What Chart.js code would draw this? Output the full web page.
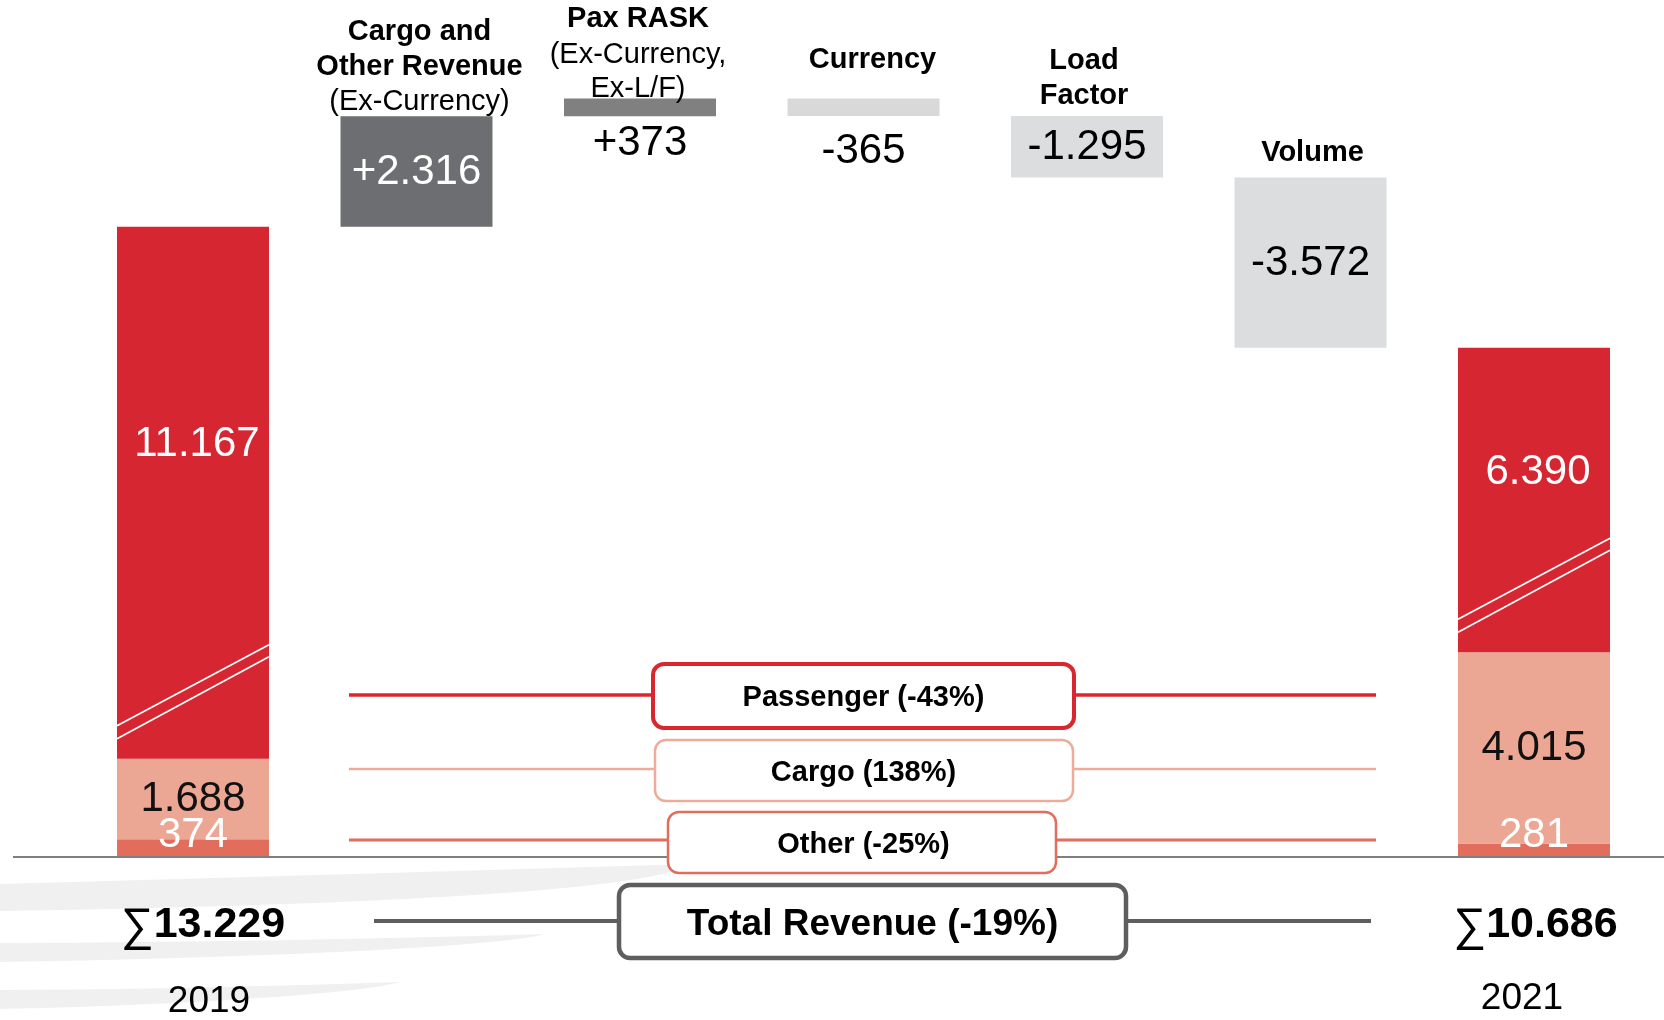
<!DOCTYPE html>
<html>
<head>
    <meta charset="utf-8" lang="en">
    <title>Revenue Bridge 2019 - 2021</title>
    <script src="https://cdn.jsdelivr.net/npm/chart.js@4.4.1/dist/chart.umd.min.js"></script>
    <style>
        html, body { margin: 0; padding: 0; background: #ffffff; }
        #bridgeChart { display: block; }
    </style>
</head>
<body>
    <canvas id="bridgeChart" width="1664" height="1020"></canvas>

    <script>
        // ---- data ----
        const categories = ['2019', 'Cargo and Other Revenue (Ex-Currency)', 'Pax RASK (Ex-Currency, Ex-L/F)',
                            'Currency', 'Load Factor', 'Volume', '2021'];
        const headerLines = [
            [],
            ['Cargo and', 'Other Revenue', '(Ex-Currency)'],
            ['Pax RASK', '(Ex-Currency,', 'Ex-L/F)'],
            ['Currency'],
            ['Load', 'Factor'],
            ['Volume'],
            []
        ];
        const segmentNames = ['Passenger', 'Cargo', 'Other'];
        const revenue2019 = [11167, 1688, 374];
        const revenue2021 = [6390, 4015, 281];
        const stepDeltas = [2316, 373, -365, -1295, -3572];
        const changeLabels = ['Passenger (-43%)', 'Cargo (138%)', 'Other (-25%)'];
        const totalLabel = 'Total Revenue (-19%)';
        const yearLabels = ['2019', '2021'];

        // ---- styles ----
        const FONT = '"Liberation Sans", Arial, sans-serif';
        const segmentColors = ['#D62631', '#EBA794', '#E26D5C'];
        const stepColors = ['#6D6E71', '#808080', '#D9D9D9', '#DCDDDF', '#DCDDDF'];
        const stepLabelColors = ['#ffffff', '#000000', '#000000', '#000000', '#000000'];
        const stepLabelGap = [0, 27, 36, 0, 0];       // 0 = inside the box, else px below it
        const headerBold = [0, 2, 1, 1, 2, 1, 0];      // how many leading lines are bold
        const headerY = [[], [32, 67, 102], [19, 55, 89], [60], [61, 96], [153], []];
        const headerDx = [0, 3, -2, 9, -3, 2, 0];
        const changeBoxes = [
            { y: 695, top: 664, bottom: 728, left: 653, right: 1074, color: '#D9262F', width: 4, line: 3.5 },
            { y: 769, top: 740, bottom: 801, left: 655, right: 1073, color: '#EFAB99', width: 2.5, line: 2.5 },
            { y: 840, top: 812, bottom: 873, left: 668, right: 1056, color: '#E26D5C', width: 2.5, line: 3 }
        ];

        function fmt(n) {
            return String(Math.abs(n)).replace(/\B(?=(\d{3})+(?!\d))/g, '.');
        }
        function sum(arr) { return arr.reduce((a, b) => a + b, 0); }

        const nCat = categories.length;

        // stacked composition bars, Other at the bottom, Passenger on top
        function segmentData(seg) {
            const arr = new Array(nCat).fill(null);
            [revenue2019, revenue2021].forEach((vals, k) => {
                let start = 0;
                for (let s = vals.length - 1; s > seg; s--) start += vals[s];
                arr[k === 0 ? 0 : nCat - 1] = [start, start + vals[seg]];
            });
            return arr;
        }

        // floating bridge steps
        const stepData = [null];
        let level = sum(revenue2019);
        stepDeltas.forEach(d => {
            stepData.push([level, level + d]);
            level += d;
        });
        stepData.push(null);

        const datasets = segmentNames.map((name, i) => ({
            label: name,
            data: segmentData(i),
            backgroundColor: segmentColors[i]
        }));
        datasets.push({
            label: 'Bridge',
            data: stepData,
            backgroundColor: [null].concat(stepColors, [null])
        });

        function barBox(chart, ds, idx) {
            const el = chart.getDatasetMeta(ds).data[idx];
            const p = el.getProps(['x', 'y', 'base', 'width'], true);
            return {
                x: p.x, left: p.x - p.width / 2, right: p.x + p.width / 2,
                top: Math.min(p.y, p.base), bottom: Math.max(p.y, p.base)
            };
        }

        function text(ctx, str, x, y, size, bold, color) {
            ctx.font = (bold ? 'bold ' : '') + size + 'px ' + FONT;
            ctx.fillStyle = color;
            ctx.textAlign = 'center';
            ctx.textBaseline = 'middle';
            ctx.fillText(str, x, y);
        }

        function roundBox(ctx, b) {
            ctx.beginPath();
            ctx.roundRect(b.left, b.top, b.right - b.left, b.bottom - b.top, 11);
            ctx.fillStyle = '#ffffff';
            ctx.fill();
            ctx.lineWidth = b.width;
            ctx.strokeStyle = b.color;
            ctx.stroke();
        }

        const bridgeDecor = {
            id: 'bridgeDecor',
            beforeDatasetsDraw(chart) {
                // faint swooshes in the lower left corner
                const ctx = chart.ctx;
                ctx.save();
                ctx.fillStyle = '#F0F0F0';
                ctx.beginPath();
                ctx.moveTo(0, 884);
                ctx.quadraticCurveTo(360, 874, 690, 864);
                ctx.bezierCurveTo(650, 893, 320, 906, 0, 911);
                ctx.closePath();
                ctx.moveTo(0, 943);
                ctx.quadraticCurveTo(280, 942, 545, 934);
                ctx.bezierCurveTo(500, 947, 250, 958, 0, 962);
                ctx.closePath();
                ctx.moveTo(0, 990);
                ctx.quadraticCurveTo(200, 989, 400, 982);
                ctx.bezierCurveTo(360, 994, 180, 1005, 0, 1009);
                ctx.closePath();
                ctx.fill();
                ctx.restore();
            },
            afterDatasetsDraw(chart) {
                const ctx = chart.ctx;
                const yScale = chart.scales.y;
                const zeroY = yScale.getPixelForValue(0);
                ctx.save();

                // axis break marks in the passenger bars
                [0, nCat - 1].forEach(i => {
                    const b = barBox(chart, 0, i);
                    ctx.strokeStyle = '#ffffff';
                    ctx.lineWidth = 1.8;
                    [[33, 114], [20, 102]].forEach(([l, r]) => {
                        ctx.beginPath();
                        ctx.moveTo(b.left, b.bottom - l);
                        ctx.lineTo(b.right, b.bottom - r);
                        ctx.stroke();
                    });
                });

                // baseline
                ctx.strokeStyle = '#7F7F7F';
                ctx.lineWidth = 2;
                ctx.beginPath();
                ctx.moveTo(13, zeroY);
                ctx.lineTo(chart.width, zeroY);
                ctx.stroke();

                // composition labels
                [revenue2019, revenue2021].forEach((vals, k) => {
                    const idx = k === 0 ? 0 : nCat - 1;
                    const pax = barBox(chart, 0, idx);
                    text(ctx, fmt(vals[0]), pax.x + 4, pax.top + 0.41 * (pax.bottom - pax.top), 42, false, '#ffffff');
                    const cargo = barBox(chart, 1, idx);
                    text(ctx, fmt(vals[1]), cargo.x, (cargo.top + cargo.bottom) / 2, 42, false, '#111111');
                    const other = barBox(chart, 2, idx);
                    text(ctx, fmt(vals[2]), other.x, other.bottom - 22, 42, false, '#ffffff');
                });

                // bridge step labels and headers
                stepDeltas.forEach((d, s) => {
                    const b = barBox(chart, 3, s + 1);
                    const str = (d > 0 ? '+' : '-') + fmt(d);
                    const y = stepLabelGap[s] ? b.bottom + stepLabelGap[s] : (b.top + b.bottom) / 2 + 1;
                    text(ctx, str, b.x, y, 42, false, stepLabelColors[s]);
                });
                headerLines.forEach((lines, i) => {
                    if (!lines.length) return;
                    const b = barBox(chart, 3, i);
                    lines.forEach((ln, j) => {
                        text(ctx, ln, b.x + headerDx[i], headerY[i][j], 29, j < headerBold[i], '#000000');
                    });
                });

                // change call-outs between the two years
                const left = barBox(chart, 0, 0).right + 80;
                const right = barBox(chart, 0, nCat - 1).left - 82;
                const midX = barBox(chart, 3, 3).x;
                changeBoxes.forEach((b, i) => {
                    ctx.strokeStyle = b.color;
                    ctx.lineWidth = b.line;
                    ctx.beginPath();
                    ctx.moveTo(left, b.y);
                    ctx.lineTo(right, b.y);
                    ctx.stroke();
                    roundBox(ctx, b);
                    text(ctx, changeLabels[i], midX, (b.top + b.bottom) / 2 + 2, 29, true, '#000000');
                });

                // total revenue row
                const totalY = 921;
                ctx.strokeStyle = '#5E5E5E';
                ctx.lineWidth = 4;
                ctx.beginPath();
                ctx.moveTo(left + 25, totalY);
                ctx.lineTo(right - 5, totalY);
                ctx.stroke();
                roundBox(ctx, { top: 885, bottom: 958, left: 619, right: 1126, color: '#5E5E5E', width: 4.5 });
                text(ctx, totalLabel, 872.5, totalY + 4, 37, true, '#000000');

                [sum(revenue2019), sum(revenue2021)].forEach((tot, k) => {
                    const b = barBox(chart, 0, k === 0 ? 0 : nCat - 1);
                    const num = fmt(tot);
                    ctx.font = 'bold 43px ' + FONT;
                    const wNum = ctx.measureText(num).width;
                    ctx.font = '46px ' + FONT;
                    const wSig = ctx.measureText('\u2211').width;
                    const cx = b.x + (k === 0 ? 10 : 1.5);
                    const x0 = cx - (wNum + wSig) / 2;
                    ctx.fillStyle = '#000000';
                    ctx.textBaseline = 'alphabetic';
                    ctx.textAlign = 'left';
                    ctx.fillText('\u2211', x0, 940);
                    ctx.font = 'bold 43px ' + FONT;
                    ctx.fillText(num, x0 + wSig, 937);
                    text(ctx, yearLabels[k], b.x + (k === 0 ? 16 : -12), k === 0 ? 1002 : 999, 37, false, '#000000');
                });

                ctx.restore();
            }
        };

        new Chart(document.getElementById('bridgeChart'), {
            type: 'bar',
            data: { labels: categories, datasets: datasets },
            options: {
                responsive: false,
                animation: false,
                layout: { padding: { left: 81.25, right: 18.25, top: 94.6, bottom: 163 } },
                datasets: {
                    bar: { grouped: false, categoryPercentage: 1, barPercentage: 0.68, borderWidth: 0 }
                },
                scales: {
                    x: { display: false },
                    y: { display: false, min: 0, max: 16000 }
                },
                plugins: {
                    legend: { display: false },
                    tooltip: { enabled: false }
                }
            },
            plugins: [bridgeDecor]
        });
    </script>
</body>
</html>
